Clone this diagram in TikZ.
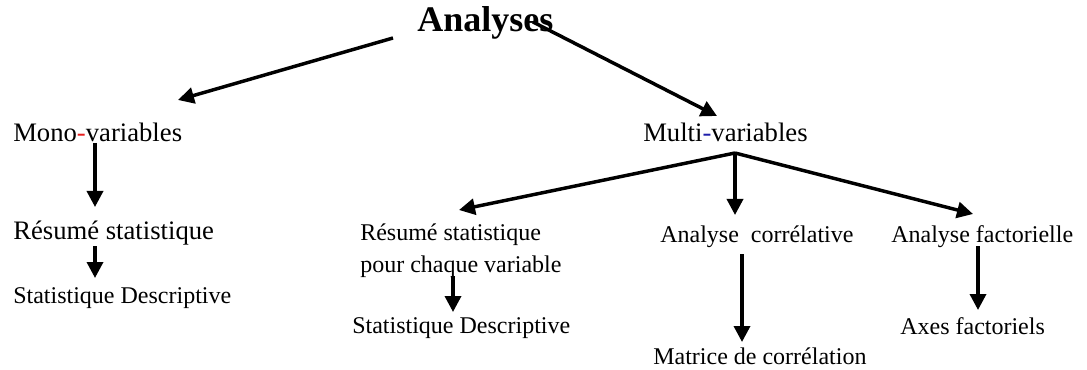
\documentclass[tikz,border=0pt]{standalone}
\usepackage{fontspec}
\setmainfont{Liberation Serif}
\usetikzlibrary{arrows.meta}
\definecolor{hyred}{RGB}{230,30,30}
\definecolor{hyblue}{RGB}{30,30,170}
\tikzset{
  lbl/.style={inner sep=0pt, anchor=base west, text=black},
  big/.style={lbl, font=\fontsize{20}{24}\selectfont},
  mid/.style={lbl, font=\fontsize{18}{21}\selectfont},
  arr/.style={line width=2.6pt, -{Triangle[length=12pt, width=12pt]}},
}
\begin{document}
\begin{tikzpicture}[x=0.75pt, y=-0.75pt]
\useasboundingbox (0,0) rectangle (1087,370);
% labels
\node[lbl, font=\fontsize{27}{32}\selectfont\bfseries] (top) at (417,32) {Analyses};
\node[big] (mono) at (13,142) {Mono\textcolor{hyred}{-}variables};
\node[big] (multi) at (643,142) {Multi\textcolor{hyblue}{-}variables};
\node[big] (resL) at (13,239) {Résumé statistique};
\node[mid] (sdL) at (13,303) {Statistique Descriptive};
\node[mid] (resM) at (360,240) {Résumé statistique};
\node[mid] (pour) at (360,272) {pour chaque variable};
\node[mid] (sdM) at (352,333) {Statistique Descriptive};
\node[mid] (corr) at (660,242) {Analyse\ \ corrélative};
\node[mid] (fact) at (891,242) {Analyse factorielle};
\node[mid] (mat) at (653,364) {Matrice de corrélation};
\node[mid] (axes) at (900,334) {Axes factoriels};
% connector end points
\coordinate (a1s) at (393,38);
\coordinate (a1e) at (178,100);
\coordinate (a2s) at (533,22);
\coordinate (a2e) at (717,116);
\coordinate (m1s) at (95,143);
\coordinate (m1e) at (95,207);
\coordinate (m2s) at (95,246);
\coordinate (m2e) at (95,278);
\coordinate (br) at (735,153);
\coordinate (b1e) at (459,210);
\coordinate (b2e) at (735,215);
\coordinate (b3e) at (973,214);
\coordinate (r1s) at (453,276);
\coordinate (r1e) at (453,312);
\coordinate (c1s) at (742,254);
\coordinate (c1e) at (742,342);
\coordinate (f1s) at (978,246);
\coordinate (f1e) at (978,310);
% connectors
\draw[arr] (a1s) -- (a1e);
\draw[arr] (a2s) -- (a2e);
\draw[arr] (m1s) -- (m1e);
\draw[arr] (m2s) -- (m2e);
\draw[arr] (br) -- (b1e);
\draw[arr] (br) -- (b2e);
\draw[arr] (br) -- (b3e);
\draw[arr] (r1s) -- (r1e);
\draw[arr] (c1s) -- (c1e);
\draw[arr] (f1s) -- (f1e);
\end{tikzpicture}
\end{document}
